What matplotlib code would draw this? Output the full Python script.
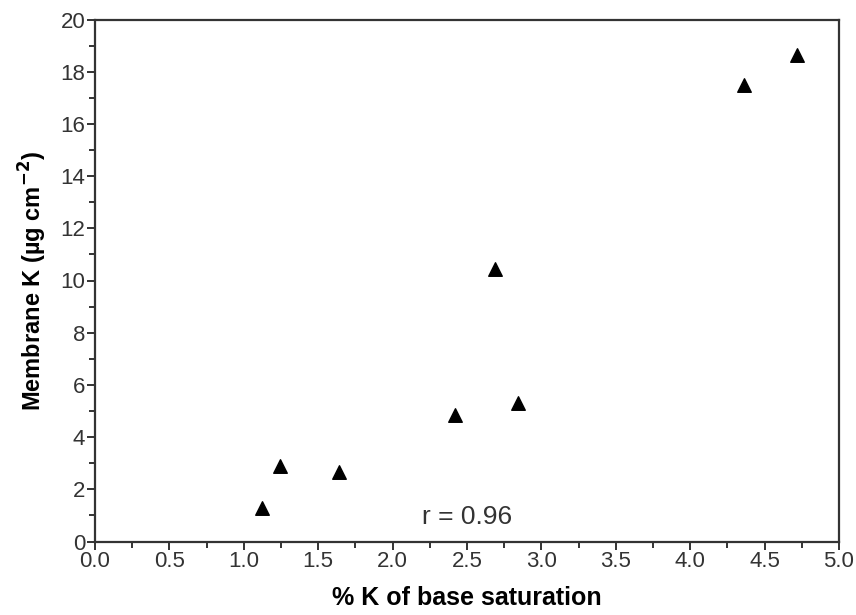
import matplotlib
matplotlib.use("Agg")
import matplotlib.pyplot as plt
from matplotlib.ticker import MultipleLocator

k_base_sat = [1.12, 1.24, 1.64, 2.42, 2.69, 2.84, 4.36, 4.72]
membrane_k = [1.3, 2.9, 2.65, 4.85, 10.45, 5.3, 17.5, 18.65]

plt.rcParams['font.family'] = ['Liberation Sans', 'DejaVu Sans']

fig = plt.figure(figsize=(8.56, 6.15), dpi=100)
ax = fig.add_axes([95/856, 1-541.5/615, (839-95)/856, (541.5-19.5)/615])

ax.scatter(k_base_sat, membrane_k, marker='^', s=95, color='black', zorder=3)

ax.set_xlim(0, 5)
ax.set_ylim(0, 20)
ax.xaxis.set_major_locator(MultipleLocator(0.5))
ax.xaxis.set_minor_locator(MultipleLocator(0.25))
ax.yaxis.set_major_locator(MultipleLocator(2))
ax.yaxis.set_minor_locator(MultipleLocator(1))
ax.xaxis.set_major_formatter(matplotlib.ticker.FormatStrFormatter('%.1f'))

for s in ax.spines.values():
    s.set_linewidth(1.6)
    s.set_color('#333333')
ax.tick_params(which='both', direction='out', width=1.4, color='#333333',
               labelsize=16, labelcolor='#333333')
ax.tick_params(which='major', length=6, pad=1)
ax.tick_params(which='minor', length=4)

ax.set_xlabel('% K of base saturation', fontsize=18, fontweight='bold', labelpad=10)
ax.set_ylabel('Membrane K (µg cm$^{\\mathbf{-2}}$)', fontsize=17, fontweight='bold', labelpad=8)

ax.text(2.5, 0.95, 'r = 0.96', fontsize=19, ha='center', va='center', color='#333333')

fig.savefig('out.png', dpi=100)
